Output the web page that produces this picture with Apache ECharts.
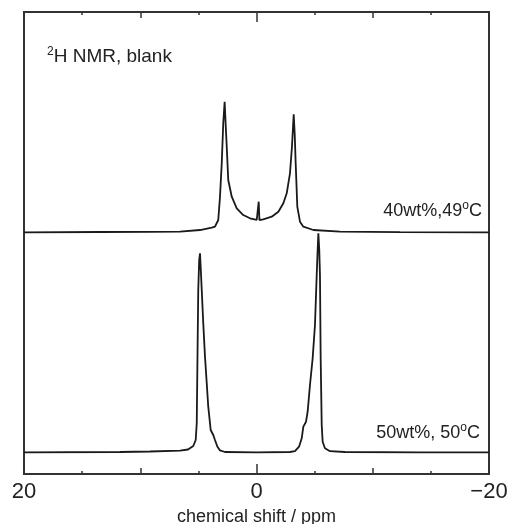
<!DOCTYPE html>
<html>
<head>
<meta charset="utf-8">
<title>2H NMR</title>
<script src="https://cdn.jsdelivr.net/npm/echarts@6/dist/echarts.min.js"></script>
<style>
	html, body { margin: 0; padding: 0; background: #fff; }
	#main { width: 510px; height: 524px; }
</style>
</head>
<body>
<div id="main"></div>
<script>
//上方谱线 40wt%,49°C
var ppmTop = [20.0, 13.46, 9.16, 6.58, 4.86, 3.85, 3.57, 3.29, 3.14, 2.99, 2.86, 2.74, 2.65, 2.56, 2.43, 2.13, 1.70,
	1.14, 0.56, -0.02, -0.13, -0.19, -0.25, -0.58, -1.31, -1.88, -2.31, -2.60, -2.88, -3.05, -3.20, -3.29, -3.37,
	-3.51, -3.74, -4.03, -4.89, -7.18, -12.34, -20.0];
var intTop = [52.32, 52.38, 52.42, 52.45, 52.81, 53.31, 53.53, 54.98, 60.02, 67.25, 75.91, 80.58, 75.54, 70.84, 63.64, 60.02, 57.51,
	56.06, 55.35, 54.98, 54.98, 58.94, 54.98, 55.13, 55.69, 56.78, 58.59, 60.76, 65.09, 70.84, 77.86, 73.38, 67.25,
	57.86, 54.61, 53.53, 52.81, 52.45, 52.36, 52.32];

//下方谱线 50wt%, 50°C
var ppmBottom = [20.0, 11.74, 9.16, 6.58, 5.89, 5.44, 5.23, 5.14, 5.06, 5.01, 4.93, 4.86, 4.79, 4.71, 4.58, 4.43, 4.28,
	4.15, 3.94, 3.72, 3.57, 3.37, 3.14, 2.71, 0, -2.88, -3.31, -3.66, -3.89, -4.03, -4.26, -4.40, -4.60, -4.83,
	-5.03, -5.18, -5.26, -5.32, -5.40, -5.46, -5.52, -5.61, -5.69, -5.89, -6.32, -7.61, -14.06, -20.0];
var intBottom = [4.70, 4.76, 4.87, 5.04, 5.30, 6.06, 7.36, 10.97, 29.00, 39.83, 46.32, 47.77, 44.16, 39.83, 32.62, 25.39, 19.63,
	14.57, 9.52, 8.44, 7.36, 5.95, 5.09, 4.76, 4.70, 4.76, 4.94, 5.91, 7.73, 10.24, 11.32, 13.48, 19.26, 25.04,
	32.25, 43.07, 48.48, 52.10, 48.48, 43.07, 25.04, 10.61, 6.99, 5.56, 4.94, 4.76, 4.70, 4.70];

//刻度标签
var tickValues = [20, 0, -20];
var tickLabels = ["20", "0", "\u221220"];

var fontName = "Liberation Sans";
var inkColor = "#222";

/**
 * 拼接坐标点
 */
function toPoints(xs, ys) {
	var pts = [];
	for (var i = 0; i < xs.length; i++) {
		pts.push([xs[i], ys[i]]);
	}
	return pts;
}

/**
 * 生成x轴
 */
function makeAxis(pos, interval, len, minor, withLabel) {
	var axis = {
		type: 'value',
		position: pos,
		min: -20,
		max: 20,
		inverse: true,
		interval: interval,
		axisLine: { show: false },
		splitLine: { show: false },
		axisTick: {
			show: true,
			inside: true,
			length: len,
			lineStyle: { color: '#333', width: 1.5 }
		},
		minorTick: {
			show: minor,
			splitNumber: 2,
			length: 3,
			lineStyle: { color: '#333', width: 1.5 }
		},
		axisLabel: { show: false }
	};
	if (withLabel) {
		axis.axisLabel = {
			show: true,
			margin: 7,
			fontFamily: fontName,
			fontSize: 22,
			color: inkColor,
			showMinLabel: true,
			showMaxLabel: true,
			formatter: function(v) {
				var idx = tickValues.indexOf(v);
				return idx >= 0 ? tickLabels[idx] : '';
			}
		};
		axis.name = 'chemical shift / ppm';
		axis.nameLocation = 'middle';
		axis.nameGap = 28;
		axis.nameTextStyle = { fontFamily: fontName, fontSize: 18, color: inkColor };
	}
	return axis;
}

/**
 * 文字标注
 */
function makeLabel(pos, text, size) {
	var t = {
		text: text,
		padding: 0,
		textStyle: {
			fontFamily: fontName,
			fontWeight: 'normal',
			rich: {
				n: { fontFamily: fontName, fontSize: size, lineHeight: 22, color: inkColor },
				s: { fontFamily: fontName, fontSize: 12, lineHeight: 10, verticalAlign: 'top', color: inkColor }
			}
		}
	};
	for (var k in pos) {
		t[k] = pos[k];
	}
	return t;
}

var myChart = echarts.init(document.getElementById('main'));
var option = {
	backgroundColor: '#fff',
	animation: false,
	title: [
		makeLabel({ left: 47, top: 46 }, '{s|2}{n|H NMR, blank}', 19),
		makeLabel({ right: 28, top: 200 }, '{n|40wt%,49}{s|o}{n|C}', 18),
		makeLabel({ right: 30, top: 422 }, '{n|50wt%, 50}{s|o}{n|C}', 18)
	],
	grid: {
		left: 24,
		right: 21,
		top: 12,
		bottom: 50,
		outerBoundsMode: 'none',
		containLabel: false,
		show: true,
		borderWidth: 2,
		borderColor: '#333',
		backgroundColor: 'transparent'
	},
	xAxis: [
		makeAxis('bottom', 10, 6, true, false),
		makeAxis('bottom', 20, 10, false, true),
		makeAxis('top', 10, 6, true, false),
		makeAxis('top', 20, 10, false, false)
	],
	yAxis: {
		type: 'value',
		min: 0,
		max: 100,
		axisLine: { show: false },
		axisTick: { show: false },
		axisLabel: { show: false },
		splitLine: { show: false }
	},
	series: [{
		type: 'line',
		xAxisIndex: 0,
		data: toPoints(ppmTop, intTop),
		showSymbol: false,
		lineStyle: { color: '#1a1a1a', width: 1.8 }
	}, {
		type: 'line',
		xAxisIndex: 0,
		data: toPoints(ppmBottom, intBottom),
		showSymbol: false,
		lineStyle: { color: '#1a1a1a', width: 1.8 }
	}]
};
myChart.setOption(option);
</script>
</body>
</html>
